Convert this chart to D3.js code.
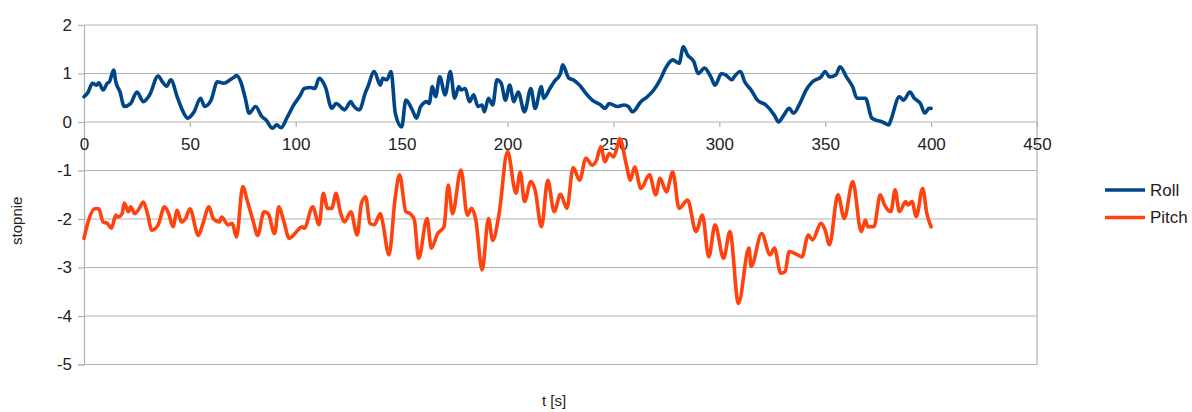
<!DOCTYPE html>
<html>
<head>
<meta charset="utf-8">
<script src="https://cdn.jsdelivr.net/npm/d3@7"></script>
<style>
  html, body { margin: 0; padding: 0; background: #fff; }
  svg { display: block; }
  text { font-family: "Liberation Sans", Arial, sans-serif; fill: #222; }
</style>
</head>
<body>
<svg id="chart" width="1192" height="412"></svg>
<script>
// Roll angle over time (t in seconds, angle in degrees)
const rollTime = [0,2,4,6,7,9,11,12,14,15,17,19,22,25,28,31,35,37,39,41,44,46,49,52,55,57,60,63,66,69,71,72,74,76,78,81,84,86,89,91,93,96,99,102,104,107,109,111,114,117,119,122,123,126,127,130,133,134,137,140,141,143,145,147,150,152,155,157,159,162,163,164.5,166,168,170.5,173,175,177,178,180,182,184,186,188,189,191,193,195,197,199,201,203,205,208,211,213,216,217,220,222,225,226,229,231,234,237,240,244,246,248,252,255,257,259,263,266,269,272,275,278,281,283,285,288,290,293,296,298,301,303,306,307,310,312,315,318,322,326,328,330,333,335,338,341,344,348,350,352,355,357,360,363,365,369,372,374,377,380,381,385,387,390,392,395,397,399,400];
const rollDeg = [0.52,0.62,0.80,0.76,0.81,0.66,0.80,0.83,1.07,0.83,0.62,0.32,0.38,0.62,0.42,0.56,0.95,0.83,0.74,0.87,0.52,0.29,0.08,0.21,0.49,0.32,0.45,0.83,0.80,0.87,0.93,0.96,0.83,0.52,0.18,0.32,0.11,0.04,-0.13,-0.06,-0.12,0.10,0.35,0.54,0.69,0.71,0.69,0.90,0.72,0.28,0.38,0.28,0.25,0.42,0.35,0.25,0.62,0.72,1.04,0.76,0.90,0.87,1.04,0.18,-0.10,0.45,0.25,0.08,0.32,0.42,0.38,0.73,0.52,0.93,0.56,1.04,0.49,0.73,0.66,0.69,0.42,0.56,0.32,0.35,0.21,0.49,0.35,0.87,0.80,0.45,0.76,0.42,0.62,0.21,0.69,0.28,0.73,0.49,0.69,0.83,1.00,1.18,0.90,0.87,0.76,0.59,0.45,0.35,0.28,0.38,0.32,0.35,0.32,0.21,0.42,0.52,0.66,0.87,1.14,1.28,1.21,1.55,1.38,1.24,1.00,1.11,0.93,0.76,1.00,0.97,0.87,0.93,1.04,0.83,0.66,0.45,0.35,0.14,0.00,0.11,0.28,0.18,0.38,0.66,0.83,0.93,1.04,0.93,0.97,1.14,0.93,0.72,0.49,0.49,0.08,0.04,0.00,-0.06,0.04,0.52,0.45,0.62,0.49,0.38,0.18,0.28,0.28];

// Pitch angle over time (t in seconds, angle in degrees)
const pitchTime = [0,2,5,7,9,11,13,15,16,18,19,21,22,24,26,28,30,32,35,38,40,42,44,46,48,50,54,56,59,61,64,65,68,70,72,75,77,80,82,85,87,90,92,94,97,100,103,104,108,111,113,115,117,119,121,123,126,129,131,133,135,137,140,141,144,147,149,152,154,156,158,162,164,167,170,172,174,178,181,183,185,188,191,193,196,200,204,206,208,211,213,216,219,222,225,228,231,234,237,240,242,244,246,248,250,252,253,256,258,260,263,267,270,272,275,278,281,285,289,292,295,298,302,305,309,314,315,320,324,326,329,331,333,337,339,342,344,348,350,352,356,359,363,367,369,370,373,376,378,381,383,385,388,389,391,393,396,398,400];
const pitchDeg = [-2.40,-2.05,-1.79,-1.79,-2.06,-2.09,-2.19,-1.92,-1.96,-1.89,-1.67,-1.85,-1.75,-1.89,-1.79,-1.65,-1.89,-2.23,-2.12,-1.75,-1.89,-2.16,-1.82,-2.06,-1.99,-1.79,-2.34,-2.12,-1.75,-1.99,-2.06,-1.96,-2.12,-2.09,-2.37,-1.33,-1.61,-2.06,-2.34,-1.85,-1.89,-2.30,-1.75,-1.99,-2.40,-2.28,-2.16,-2.19,-1.75,-2.12,-1.47,-1.78,-1.78,-1.47,-1.85,-2.06,-1.85,-2.33,-1.68,-1.54,-2.09,-2.12,-1.89,-2.06,-2.74,-1.54,-1.09,-1.85,-1.89,-2.02,-2.81,-1.99,-2.60,-2.30,-2.16,-1.30,-1.89,-0.99,-1.92,-1.78,-2.02,-3.05,-1.99,-2.44,-1.89,-0.61,-1.47,-1.03,-1.64,-1.23,-1.40,-2.16,-1.20,-1.85,-1.49,-1.78,-0.94,-1.20,-0.75,-0.89,-0.79,-0.51,-0.82,-0.65,-0.72,-0.48,-0.34,-0.86,-1.20,-0.93,-1.37,-1.09,-1.50,-1.16,-1.44,-1.03,-1.78,-1.61,-2.26,-1.92,-2.78,-2.12,-2.81,-2.26,-3.74,-2.60,-2.98,-2.30,-2.74,-2.60,-3.12,-3.09,-2.67,-2.74,-2.78,-2.33,-2.43,-2.09,-2.23,-2.53,-1.50,-1.99,-1.23,-2.26,-2.02,-2.16,-2.16,-1.50,-1.71,-1.85,-1.40,-1.85,-1.64,-1.71,-1.64,-1.95,-1.37,-1.89,-2.16];

const xTicks = [0,50,100,150,200,250,300,350,400,450];
const yTicks = [2,1,0,-1,-2,-3,-4,-5];
const seriesNames = ["Roll", "Pitch"];
const seriesColors = ["#004586", "#ff420e"];
const xTitle = "t [s]";
const yTitle = "stopnie";

const svg = d3.select("#chart");
const plot = { left: 84, right: 1037, top: 25, bottom: 364.5 };

const x = d3.scaleLinear().domain([0, 450]).range([plot.left, plot.right]);
const y = d3.scaleLinear().domain([-5, 2]).range([plot.bottom, plot.top]);
const grid = "#b3b3b3";
const tickFmt = d => String(d);   // plain hyphen-minus for negatives

// Horizontal grid lines
svg.append("g")
  .selectAll("line")
  .data(yTicks)
  .join("line")
  .attr("x1", plot.left).attr("x2", plot.right)
  .attr("y1", d => y(d)).attr("y2", d => y(d))
  .attr("stroke", grid).attr("stroke-width", 1.2);

// Right frame edge
svg.append("line")
  .attr("x1", plot.right).attr("x2", plot.right)
  .attr("y1", plot.top).attr("y2", plot.bottom)
  .attr("stroke", grid).attr("stroke-width", 1.2);

// Y axis
const yAxis = svg.append("g")
  .attr("transform", `translate(${plot.left},0)`)
  .call(d3.axisLeft(y).tickValues(yTicks).tickSize(6).tickPadding(6).tickFormat(tickFmt));
yAxis.select(".domain").attr("stroke", grid).attr("stroke-width", 1.2);
yAxis.selectAll(".tick line").attr("stroke", grid).attr("stroke-width", 1.2);
yAxis.selectAll(".tick text").style("font-size", "17px").attr("fill", "#222")
  .style("font-family", "'Liberation Sans', Arial, sans-serif");

// X axis drawn along the zero line
const xAxis = svg.append("g")
  .attr("transform", `translate(0,${y(0)})`)
  .call(d3.axisBottom(x).tickValues(xTicks).tickSize(5).tickPadding(11).tickFormat(tickFmt));
xAxis.select(".domain").remove();
xAxis.selectAll(".tick line").attr("stroke", grid).attr("stroke-width", 1.2);
xAxis.selectAll(".tick text").style("font-size", "17px").attr("fill", "#222")
  .style("font-family", "'Liberation Sans', Arial, sans-serif");

// Series lines
const line = d3.line().x(d => x(d[0])).y(d => y(d[1])).curve(d3.curveMonotoneX);
const series = [
  d3.zip(rollTime, rollDeg),
  d3.zip(pitchTime, pitchDeg)
];
svg.append("g")
  .selectAll("path")
  .data(series)
  .join("path")
  .attr("d", line)
  .attr("fill", "none")
  .attr("stroke", (d, i) => seriesColors[i])
  .attr("stroke-width", 3.6)
  .attr("stroke-linejoin", "round")
  .attr("stroke-linecap", "round");

// Axis titles
svg.append("text")
  .attr("transform", `translate(22,${(plot.top + plot.bottom) / 2 + 26}) rotate(-90)`)
  .attr("text-anchor", "middle")
  .style("font-size", "15px")
  .text(yTitle);

svg.append("text")
  .attr("x", 554).attr("y", 406)
  .attr("text-anchor", "middle")
  .style("font-size", "15px")
  .text(xTitle);

// Legend
const legend = svg.append("g").attr("transform", "translate(1105,190)");
seriesNames.forEach((name, i) => {
  const g = legend.append("g").attr("transform", `translate(0,${i * 27.5})`);
  g.append("line").attr("x1", 0).attr("x2", 40).attr("y1", 0).attr("y2", 0)
    .attr("stroke", seriesColors[i]).attr("stroke-width", 3.6);
  g.append("text").attr("x", 45).attr("y", 0).attr("dy", "0.35em")
    .style("font-size", "17px").text(name);
});
</script>
</body>
</html>
